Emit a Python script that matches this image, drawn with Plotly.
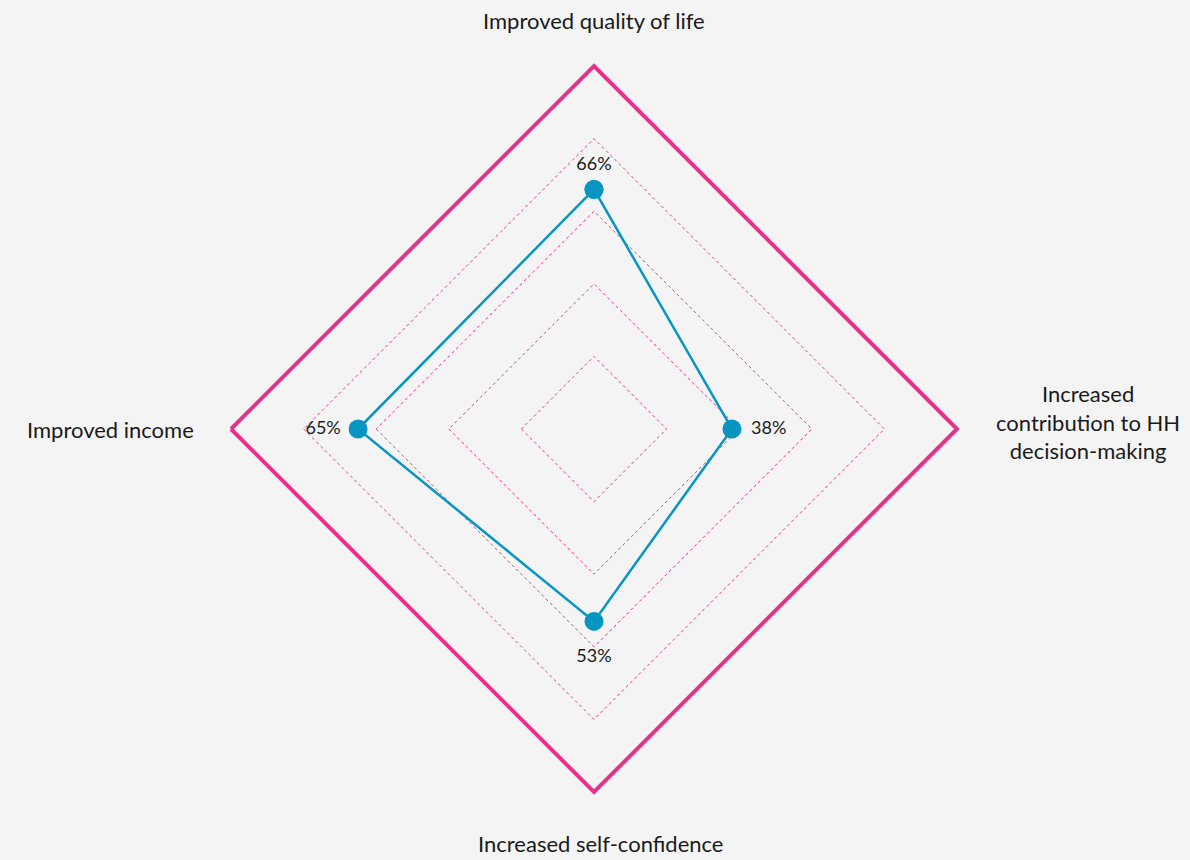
import plotly.graph_objects as go

categories = ["Improved quality of life",
              "Increased<br>contribution to HH<br>decision-making",
              "Increased self-confidence",
              "Improved income"]
values = [66, 38, 53, 65]
value_labels = ["66%", "38%", "53%", "65%"]
grid_ticks = [20, 40, 60, 80]

PINK = "#E5328A"
BLUE = "#0995C2"
BG = "#F4F4F4"
TXT = "#1A1A1A"
FONT = "Lato, 'DejaVu Sans', sans-serif"

fig = go.Figure()
fig.add_trace(go.Scatterpolar(
    r=values + [values[0]],
    theta=categories + [categories[0]],
    mode="lines+markers",
    line=dict(color=BLUE, width=2.5),
    marker=dict(size=19, color=BLUE),
    hoverinfo="skip",
    showlegend=False,
))
# value labels (invisible markers set the label offset from each point)
fig.add_trace(go.Scatterpolar(
    r=values,
    theta=categories,
    mode="markers+text",
    text=value_labels,
    textposition=["top center", "middle right", "bottom center", "middle left"],
    textfont=dict(size=18, color=TXT, family=FONT),
    marker=dict(size=[23, 29, 41, 26], opacity=0),
    hoverinfo="skip",
    showlegend=False,
))

fig.update_layout(
    width=1190, height=860,
    paper_bgcolor=BG, plot_bgcolor=BG,
    margin=dict(l=231, r=233, t=66, b=68),
    font=dict(family=FONT, size=22, color=TXT),
    polar=dict(
        bgcolor=BG,
        gridshape="linear",
        radialaxis=dict(range=[0, 100], tickvals=grid_ticks, showticklabels=False,
                        showline=False, ticks="", gridcolor=PINK, griddash="dot",
                        gridwidth=1.2),
        angularaxis=dict(rotation=90, direction="clockwise", showgrid=False,
                         showticklabels=False, ticks="", linecolor=PINK, linewidth=4),
    ),
)

# category labels placed outside each vertex
specs = [
    dict(x=0.5, y=1.0, xanchor="center", yanchor="middle", xshift=0, yshift=46),
    dict(x=1.0, y=0.5, xanchor="center", yanchor="middle", xshift=131, yshift=7),
    dict(x=0.5, y=0.0, xanchor="center", yanchor="middle", xshift=7, yshift=-51),
    dict(x=0.0, y=0.5, xanchor="right", yanchor="middle", xshift=-35, yshift=0),
]
for cat, s in zip(categories, specs):
    fig.add_annotation(text=cat, xref="paper", yref="paper", showarrow=False,
                       align="center", font=dict(size=22, family=FONT, color=TXT), **s)

fig.write_html("out.html")
